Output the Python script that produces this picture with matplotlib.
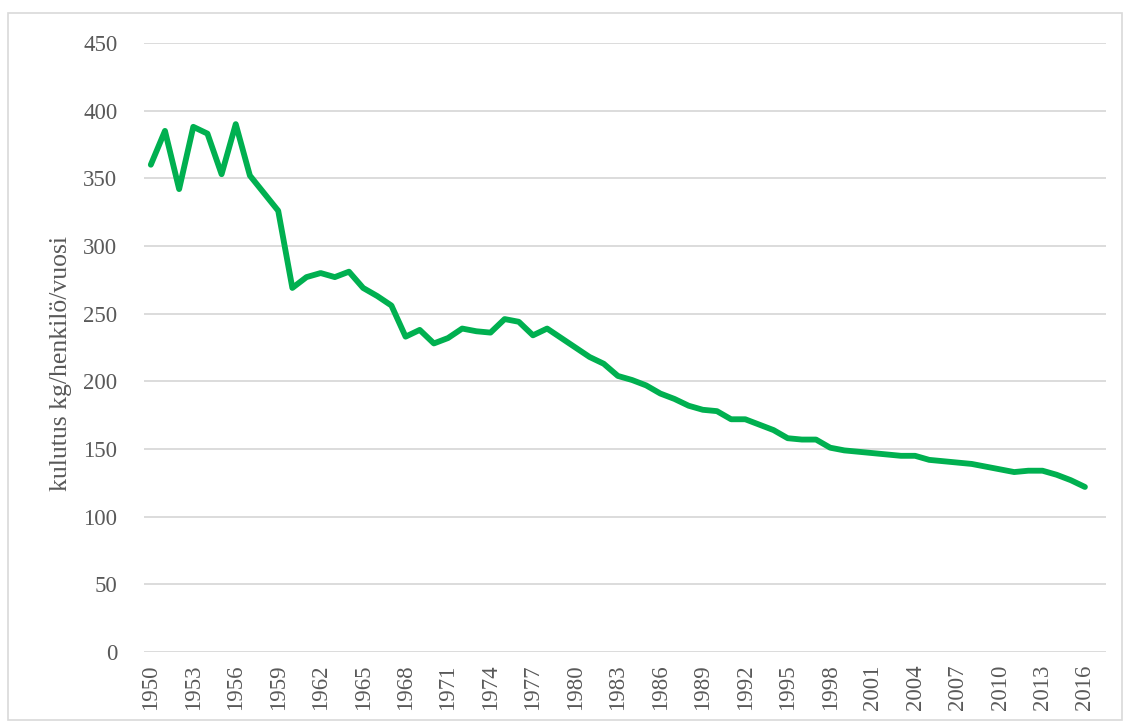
import matplotlib
matplotlib.use('Agg')
import matplotlib.pyplot as plt
from matplotlib.patches import Rectangle

years = list(range(1950, 2017))
consumption = [360, 385, 342, 388, 383, 353, 390, 352, 339, 326,
               269, 277, 280, 277, 281, 269, 263, 256, 233, 238,
               228, 232, 239, 237, 236, 246, 244, 234, 239, 232,
               225, 218, 213, 204, 201, 197, 191, 187, 182, 179,
               178, 172, 172, 168, 164, 158, 157, 157, 151, 149,
               148, 147, 146, 145, 145, 142, 141, 140, 139, 137,
               135, 133, 134, 134, 131, 127, 122]
tick_years = list(range(1950, 2017, 3))
y_ticks = list(range(0, 451, 50))
ylabel = 'kulutus kg/henkilö/vuosi'

plt.rcParams['font.family'] = ['Liberation Serif', 'DejaVu Serif']
text_color = '#595959'

fig = plt.figure(figsize=(11.23, 7.27), dpi=100)
ax = fig.add_axes([0.128, 0.103, 0.857, 0.838])

ax.plot(years, consumption, color='#00B050', linewidth=4.2, solid_joinstyle='round',
        solid_capstyle='round', zorder=3)

ax.set_ylim(0, 450)
ax.set_xlim(1949.5, 2017.5)
ax.set_yticks(y_ticks)
ax.set_xticks(tick_years)
ax.set_xticklabels([str(y) for y in tick_years], rotation=90)
ax.grid(axis='y', color='#D9D9D9', linewidth=1.3)
ax.set_axisbelow(True)
for s in ax.spines.values():
    s.set_visible(False)
ax.tick_params(axis='both', length=0, labelsize=16.5, colors=text_color)
ax.tick_params(axis='y', pad=19)
ax.tick_params(axis='x', pad=9)
ax.set_ylabel(ylabel, fontsize=18.5, color=text_color)
ax.yaxis.set_label_coords(0.064, 0.5, transform=fig.transFigure)

# chart border
fig.patches.append(Rectangle((8 / 1123, 7 / 727), 1114 / 1123, 707 / 727,
                             transform=fig.transFigure, fill=False,
                             edgecolor='#D9D9D9', linewidth=1.2))

fig.savefig('out.png', dpi=100)
